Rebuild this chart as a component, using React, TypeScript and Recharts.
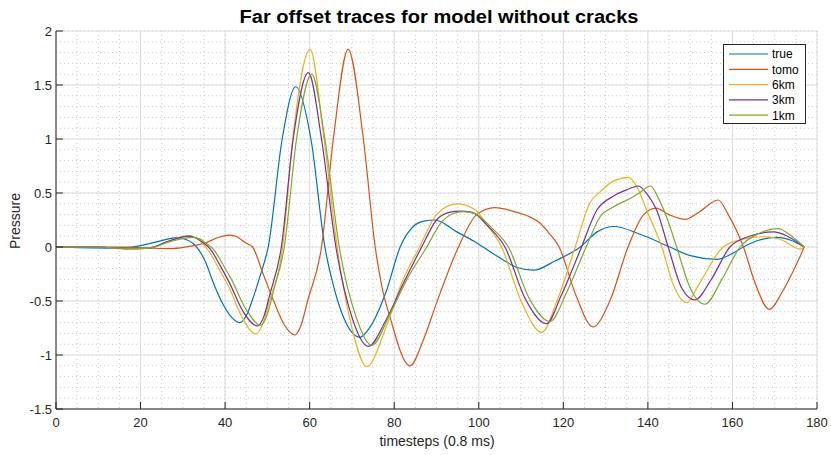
import React from "react";
import { LineChart, Line, XAxis, YAxis, CartesianGrid } from "recharts";

// ---- data (timestep, pressure) ----
const trueTrace: [number, number][] = [
  [0, 0], [12, -0.01], [18, 0], [23, 0.04], [28.8, 0.086], [31, 0.065], [32.5, 0.03],
  [34, -0.04], [35.5, -0.15], [37, -0.31], [39.5, -0.53], [41.5, -0.65], [43.5, -0.7],
  [45.2, -0.62], [46.8, -0.45], [48.5, -0.24], [50.2, 0], [53.5, 1.0],
  [56.7, 1.484], [60.3, 1.0], [63.6, 0], [65.5, -0.34], [67.5, -0.6], [71.9, -0.836],
  [74.3, -0.74], [78.2, -0.4], [81.4, 0], [84.5, 0.19], [87, 0.24], [89.6, 0.25],
  [94.8, 0.14], [99, 0.05], [101, 0], [105.8, -0.12], [109, -0.19], [113, -0.215],
  [118, -0.13], [124, 0], [128, 0.14], [132, 0.19], [138, 0.12], [145.2, 0],
  [150, -0.08], [156.3, -0.114], [159.5, -0.07], [162.6, 0], [166, 0.06],
  [170.4, 0.09], [174, 0.06], [177, 0],
];
const tomoTrace: [number, number][] = [
  [0, 0], [15, 0], [22, -0.01], [27, -0.015], [30.7, 0], [35.5, 0.04], [38.5, 0.09],
  [41.2, 0.11], [43, 0.09], [44.8, 0.04], [46.5, 0], [49, -0.25], [51.5, -0.5],
  [54, -0.72], [56.5, -0.815], [58, -0.72], [59.5, -0.5], [62.8, 0],
  [65.6, 1.0], [69.1, 1.83], [72.7, 1.0], [75.5, 0], [77, -0.35], [79, -0.65],
  [83.7, -1.1], [87, -0.85], [90, -0.52], [95.2, 0], [99.5, 0.3], [103.8, 0.365],
  [109, 0.32], [112, 0.28], [114.5, 0.22], [116.8, 0.12], [119, 0], [123, -0.45],
  [127, -0.74], [131, -0.5], [135.3, 0], [139, 0.3], [141.9, 0.36], [145, 0.3],
  [148.8, 0.256], [152, 0.32], [156.6, 0.435], [159, 0.3], [162.6, 0],
  [165.5, -0.35], [168.7, -0.577], [172, -0.4], [177, 0],
];
const km6Trace: [number, number][] = [
  [0, 0], [10, 0], [17, -0.02], [22, -0.01], [27, 0.06], [31.5, 0.105], [33, 0.085],
  [34.5, 0.04], [36, -0.03], [38.5, -0.2], [41, -0.38], [44, -0.65], [47.3, -0.805],
  [49, -0.7], [50.5, -0.5], [53.6, 0], [56, 1.0], [60.1, 1.83], [63.4, 1.0],
  [66.5, 0], [70, -0.75], [73.5, -1.108], [78, -0.75], [82, -0.31], [86, 0],
  [90, 0.3], [94.8, 0.4], [99, 0.35], [102, 0.2], [105.4, 0], [110, -0.5],
  [114.9, -0.79], [118.5, -0.5], [122.8, 0], [126.3, 0.41], [128.7, 0.51],
  [131.8, 0.61], [135.4, 0.645], [137.5, 0.55], [139.7, 0.34], [143.3, 0],
  [146, -0.35], [149.2, -0.515], [152, -0.35], [157.8, 0], [161.8, 0.065],
  [165, 0.09], [168, 0.095], [172, 0.06], [176, -0.02], [177, 0],
];
const km3Trace: [number, number][] = [
  [0, 0], [10, 0], [17, -0.015], [22, -0.01], [27, 0.06], [31.5, 0.1], [33, 0.085],
  [34.8, 0.04], [36.5, -0.02], [38.8, -0.17], [41, -0.33], [44.3, -0.6],
  [47.6, -0.73], [49.2, -0.64], [50.5, -0.45], [53.3, 0], [56.1, 1.0],
  [59.7, 1.614], [62.8, 1.0], [66.2, 0], [70, -0.65], [73.9, -0.92], [78, -0.68],
  [82, -0.35], [86.5, 0], [90, 0.25], [93, 0.32], [95.6, 0.333], [98.5, 0.32],
  [102, 0.2], [106.2, 0], [111, -0.48], [116, -0.71], [119.5, -0.45], [124.3, 0],
  [127.9, 0.34], [131.8, 0.47], [135, 0.53], [137.7, 0.565], [140, 0.48],
  [142.1, 0.34], [144.8, 0], [148, -0.38], [151.1, -0.49], [155, -0.3], [159.4, 0],
  [164, 0.1], [169.7, 0.14], [173, 0.1], [177, 0],
];
const km1Trace: [number, number][] = [
  [0, 0], [10, 0], [17, -0.015], [22, -0.01], [27, 0.05], [32.3, 0.09], [34, 0.075],
  [35.5, 0.035], [37.2, -0.02], [39.3, -0.15], [41.5, -0.3], [45, -0.58],
  [48.4, -0.725], [50, -0.62], [51.5, -0.4], [54, 0], [56.9, 1.0], [60.5, 1.6],
  [63.6, 1.0], [67, 0], [71, -0.65], [74.7, -0.91], [79, -0.62], [83, -0.3],
  [87.7, 0], [91, 0.22], [94, 0.31], [96.3, 0.327], [99, 0.31], [103, 0.18],
  [107, 0], [112, -0.48], [116.8, -0.69], [121, -0.4], [125.4, 0], [128.7, 0.28],
  [131.8, 0.37], [135.8, 0.45], [138, 0.5], [140.6, 0.565], [142.5, 0.45],
  [144.4, 0.28], [146.8, 0], [150, -0.38], [153.5, -0.53], [157.5, -0.3],
  [161.8, 0], [166, 0.12], [170.8, 0.17], [174, 0.1], [177, 0],
];

const seriesNames = ["true", "tomo", "6km", "3km", "1km"];
const seriesColors = ["#0072BD", "#D95319", "#EDB120", "#7E2F8E", "#77AC30"];
const seriesData = [trueTrace, tomoTrace, km6Trace, km3Trace, km1Trace];

const xTicks = [0, 20, 40, 60, 80, 100, 120, 140, 160, 180];
const yTicks = [-1.5, -1, -0.5, 0, 0.5, 1, 1.5, 2];
const xMinorTicks = Array.from({ length: 37 }, (_, i) => i * 5);
const yMinorTicks = Array.from({ length: 36 }, (_, i) => Math.round((-1.5 + i * 0.1) * 10) / 10);

const titleText = "Far offset traces for model without cracks";
const xLabelText = "timesteps (0.8 ms)";
const yLabelText = "Pressure";

const FONT = "'Liberation Sans', Arial, Helvetica, sans-serif";
const AXIS = "#262626";

const W = 831;
const H = 455;

const scaleOf = (axis: any) => {
  const s = axis && axis.scale;
  if (typeof s === "function") return s;
  if (s && typeof s.map === "function") return (v: number) => s.map(v);
  return null;
};

export default function App() {
  const lines = seriesData.map((d) => d.map(([x, y]) => ({ x, y })));
  return (
    <div style={{ position: "absolute", left: 0, top: 0, width: W, height: H, background: "#fff" }}>
      <LineChart width={W} height={H} margin={{ top: 31, right: 14, bottom: 0, left: 0 }}>
        <CartesianGrid
          stroke="#bdbdbd"
          strokeDasharray="1 3"
          strokeWidth={0.8}
          verticalCoordinatesGenerator={(p: any) => {
            const s = scaleOf(p.xAxis);
            return s ? xMinorTicks.map((t) => s(t)) : [];
          }}
          horizontalCoordinatesGenerator={(p: any) => {
            const s = scaleOf(p.yAxis);
            return s ? yMinorTicks.map((t) => s(t)) : [];
          }}
        />
        <CartesianGrid stroke="#dcdcdc" strokeWidth={1} />
        <XAxis
          dataKey="x"
          type="number"
          domain={[0, 180]}
          ticks={xTicks}
          height={46}
          tickSize={-7}
          tickMargin={16}
          axisLine={{ stroke: AXIS }}
          tickLine={{ stroke: AXIS }}
          tick={{ fill: AXIS, fontSize: 13, fontFamily: FONT }}
          allowDataOverflow
        />
        <XAxis
          xAxisId="top"
          orientation="top"
          dataKey="x"
          type="number"
          domain={[0, 180]}
          ticks={xTicks}
          height={0}
          tickSize={-7}
          tick={false}
          axisLine={{ stroke: AXIS }}
          tickLine={{ stroke: AXIS }}
        />
        <YAxis
          type="number"
          domain={[-1.5, 2]}
          ticks={yTicks}
          width={56}
          tickSize={-7}
          tickMargin={11}
          axisLine={{ stroke: AXIS }}
          tickLine={{ stroke: AXIS }}
          tick={{ fill: AXIS, fontSize: 13, fontFamily: FONT }}
          allowDataOverflow
        />
        <YAxis
          yAxisId="right"
          orientation="right"
          type="number"
          domain={[-1.5, 2]}
          ticks={yTicks}
          width={0}
          tickSize={-7}
          tick={false}
          axisLine={{ stroke: AXIS }}
          tickLine={{ stroke: AXIS }}
        />
        {lines.map((d, i) => (
          <Line
            key={seriesNames[i]}
            data={d}
            dataKey="y"
            type="monotone"
            stroke={seriesColors[i]}
            strokeWidth={1.2}
            dot={false}
            activeDot={false}
            isAnimationActive={false}
            name={seriesNames[i]}
          />
        ))}
      </LineChart>
      <svg
        width={W}
        height={H}
        style={{ position: "absolute", left: 0, top: 0, pointerEvents: "none" }}
      >
        <text
          x={439}
          y={23}
          textAnchor="middle"
          fontFamily={FONT}
          fontWeight="bold"
          fontSize={18}
          fill="#000"
          textLength={399}
          lengthAdjust="spacingAndGlyphs"
        >
          {titleText}
        </text>
        <text x={437} y={446} textAnchor="middle" fontFamily={FONT} fontSize={14} fill={AXIS}>
          {xLabelText}
        </text>
        <text
          x={20}
          y={221}
          textAnchor="middle"
          fontFamily={FONT}
          fontSize={14}
          fill={AXIS}
          transform="rotate(-90 20 221)"
        >
          {yLabelText}
        </text>
        <g>
          <rect x={723.5} y={44.5} width={82} height={79} fill="#fff" stroke="#262626" strokeWidth={1} />
          {seriesNames.map((n, i) => (
            <g key={n}>
              <line
                x1={729}
                x2={768}
                y1={54 + i * 15.3}
                y2={54 + i * 15.3}
                stroke={seriesColors[i]}
                strokeWidth={1.2}
              />
              <text
                x={772}
                y={54 + i * 15.3 + 4.3}
                fontFamily={FONT}
                fontSize={12}
                fill="#000"
              >
                {n}
              </text>
            </g>
          ))}
        </g>
      </svg>
    </div>
  );
}
